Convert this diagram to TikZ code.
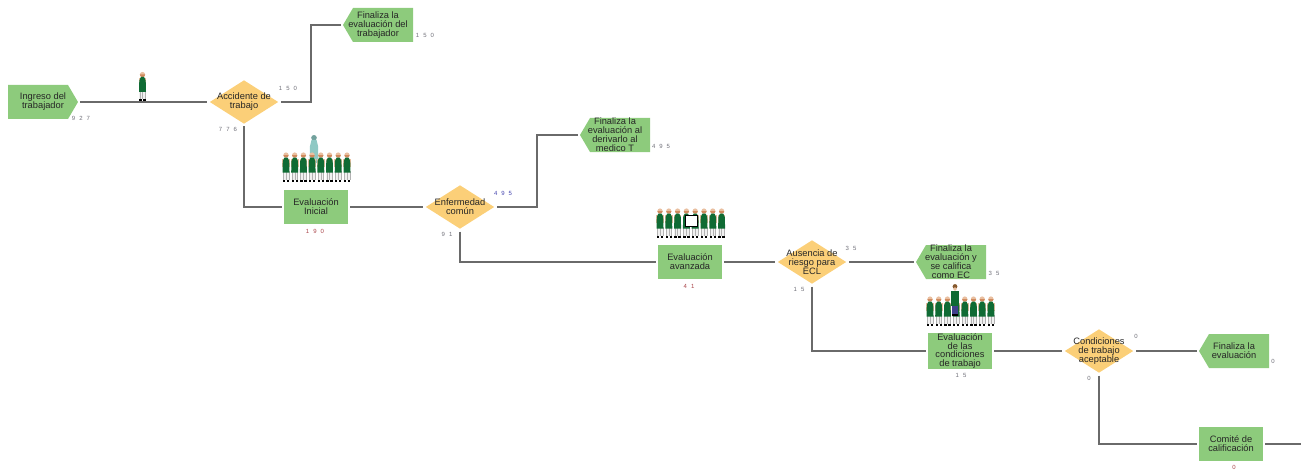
\documentclass[tikz,border=0pt]{standalone}
\usepackage{fontspec}
\setmainfont{Liberation Sans}
\newfontfamily\countfont[WordSpace=2.4]{Liberation Sans}
\usetikzlibrary{shapes.geometric}
\definecolor{boxgreen}{HTML}{8DCB7C}
\definecolor{decisionyellow}{HTML}{FBCF78}
\definecolor{linegray}{HTML}{6A6A6A}
\definecolor{apron}{HTML}{0F6B34}
\definecolor{skin}{HTML}{E9BFA0}
\definecolor{hair}{HTML}{D08A5E}
\definecolor{gown}{HTML}{8FC9C4}
\definecolor{countgray}{HTML}{6F6F78}
\begin{document}
\begin{tikzpicture}[x=1pt,y=-1pt]
    \tikzset{
        every node/.style={font=\fontsize{9.3}{8.9}\selectfont, text=black!85, align=center},
        taskbox/.style={rectangle, fill=boxgreen, minimum width=64pt, minimum height=34pt, inner sep=0pt, outer sep=2pt},
        entrybox/.style={rectangle, minimum width=70pt, minimum height=34pt, inner xsep=0pt, inner ysep=-2pt, outer sep=2pt,
            path picture={\fill[boxgreen] (path picture bounding box.north west) -- ([xshift=-10pt]path picture bounding box.north east) -- (path picture bounding box.east) -- ([xshift=-10pt]path picture bounding box.south east) -- (path picture bounding box.south west) -- cycle;}},
        exitbox/.style={rectangle, minimum width=70pt, minimum height=34pt, inner xsep=0pt, inner ysep=-2pt, outer sep=2pt,
            path picture={\fill[boxgreen] (path picture bounding box.north east) -- ([xshift=10pt]path picture bounding box.north west) -- (path picture bounding box.west) -- ([xshift=10pt]path picture bounding box.south west) -- (path picture bounding box.south east) -- cycle;}},
        decision/.style={diamond, fill=decisionyellow, minimum width=70pt, minimum height=45pt, inner xsep=-18pt, inner ysep=-12pt, outer sep=2pt},
        count/.style={font=\countfont\fontsize{6}{6}\selectfont, text=countgray},
        flow/.style={draw=linegray, line width=1.2pt},
        worker/.pic={
            \fill[black!6] (-3.2,18) rectangle (3.2,27.5);
            \draw[black!30, line width=.4pt] (0,19) -- (0,27.5) (-2.8,19) -- (-2.8,27.5) (2.8,19) -- (2.8,27.5);
            \fill[skin] (-3.8,7) rectangle (3.8,15);
            \fill[skin] (0,3) circle (2.6);
            \fill[hair] (-2.7,3) arc (180:360:2.7 and -2.7) -- cycle;
            \fill[apron] (-1.6,5.5) -- (1.6,5.5) -- (3.2,9) -- (3.5,20.5) -- (-3.5,20.5) -- (-3.2,9) -- cycle;
            \fill[black] (-3.2,27.8) rectangle (-.8,30);
            \fill[black] (.8,27.8) rectangle (3.2,30);
        },
        medic/.pic={
            \fill[gown!80!black] (0,2.8) circle (2.8);
            \fill[gown] (-2.5,5) -- (2.5,5) -- (4,11) -- (4.5,28) -- (-4.5,28) -- (-4,11) -- cycle;
        },
        supervisor/.pic={
            \fill[brown!70!black] (0,2.5) circle (2.4);
            \fill[skin] (0,5) circle (1.8);
            \fill[apron] (-3.8,7) rectangle (3.8,22);
            \fill[blue!40!black!75] (-3,22) rectangle (3,30);
            \fill[black] (-3,30) rectangle (3,32);
        }
    }
    \useasboundingbox (0,0) rectangle (1306,476);

    \node[entrybox] (ingreso) at (43,102) {Ingreso del\\trabajador};
    \node[exitbox] (finaltrab) at (378,25) {Finaliza la\\evaluación del\\trabajador};
    \node[decision] (accidente) at (244,102) {Accidente de\\trabajo};
    \node[taskbox] (inicial) at (316,207) {Evaluación\\Inicial};
    \node[decision] (comun) at (460,207) {Enfermedad\\común};
    \node[exitbox] (finalmedico) at (615,135) {Finaliza la\\evaluación al\\derivarlo al\\medico T};
    \node[taskbox] (avanzada) at (690,262) {Evaluación\\avanzada};
    \node[decision] (ausencia) at (812,262) {Ausencia de\\riesgo para\\ECL};
    \node[exitbox] (finalec) at (951,262) {Finaliza la\\evaluación y\\se califica\\como EC};
    \node[taskbox] (condiciones) at (960,351) {Evaluación\\de las\\condiciones\\de trabajo};
    \node[decision] (aceptable) at (1099,351) {Condiciones\\de trabajo\\aceptable};
    \node[exitbox] (finaleval) at (1234,351) {Finaliza la\\evaluación};
    \node[taskbox] (comite) at (1231,444) {Comité de\\calificación};

    \coordinate (elbowtrab) at (311,25);
    \coordinate (elbowmedico) at (537,135);
    \coordinate (salida) at (1301,444);

    \draw[flow] (ingreso.east) -- (accidente.west);
    \draw[flow] (accidente.east) -| (elbowtrab) -- (finaltrab.west);
    \draw[flow] (accidente.south) |- (inicial.west);
    \draw[flow] (inicial.east) -- (comun.west);
    \draw[flow] (comun.east) -| (elbowmedico) -- (finalmedico.west);
    \draw[flow] (comun.south) |- (avanzada.west);
    \draw[flow] (avanzada.east) -- (ausencia.west);
    \draw[flow] (ausencia.east) -- (finalec.west);
    \draw[flow] (ausencia.south) |- (condiciones.west);
    \draw[flow] (condiciones.east) -- (aceptable.west);
    \draw[flow] (aceptable.east) -- (finaleval.west);
    \draw[flow] (aceptable.south) |- (comite.west);
    \draw[flow] (comite.east) -- (salida);

    \pic at (142.5,71.5) {worker};
    \pic at (314,135) {medic};
    \foreach \x in {286,294.7,303.4,312.1,320.8,329.5,338.2,347} {
        \pic at (\x,152) {worker};
    }
    \foreach \x in {660,668.8,677.6,686.4,695.2,704,712.8,721.6} {
        \pic at (\x,208) {worker};
    }
    \node[draw=black, fill=white, minimum width=12pt, minimum height=11pt, inner sep=0pt, line width=.6pt] (pizarra) at (691.5,221) {};
    \foreach \x in {930,938.7,947.4,956.1,964.8,973.5,982.2,990.9} {
        \pic at (\x,296) {worker};
    }
    \pic at (955,284) {supervisor};

    \node[count] (n1) at (81,118.5) {9 2 7};
    \node[count] (n2) at (288,88.5) {1 5 0};
    \node[count] (n3) at (228,129.5) {7 7 6};
    \node[count] (n4) at (425,35.5) {1 5 0};
    \node[count, text=red!40!countgray] (n5) at (315,231) {1 9 0};
    \node[count, text=blue!40!countgray] (n6) at (503,193) {4 9 5};
    \node[count] (n7) at (447,234) {9 1};
    \node[count] (n8) at (661,146) {4 9 5};
    \node[count, text=red!40!countgray] (n9) at (689,286) {4 1};
    \node[count] (n10) at (851,248) {3 5};
    \node[count] (n11) at (799,289) {1 5};
    \node[count] (n12) at (994,273) {3 5};
    \node[count] (n13) at (961,375) {1 5};
    \node[count] (n14) at (1136,336) {0};
    \node[count] (n15) at (1089,378) {0};
    \node[count] (n16) at (1273,361) {0};
    \node[count, text=red!40!countgray] (n17) at (1234,467) {0};
\end{tikzpicture}
\end{document}
